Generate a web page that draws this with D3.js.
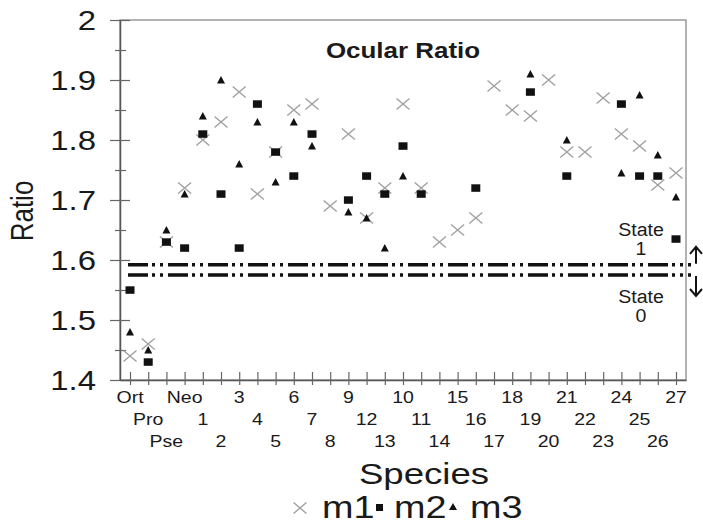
<!DOCTYPE html>
<html>
<head>
<meta charset="utf-8">
<script src="https://cdn.jsdelivr.net/npm/d3@7"></script>
<style>
  body { margin: 0; background: #fff; }
  svg { display: block; font-family: Arial, "Liberation Sans", sans-serif; }
</style>
</head>
<body>
<div id="chart"></div>
<script>
// species in the order they sit on the x axis (labels are staggered in 3 rows)
const species = ["Ort", "Pro", "Pse", "Neo", "1", "2", "3", "4", "5", "6", "7", "8",
  "9", "12", "13", "10", "11", "14", "15", "16", "17", "18", "19", "20",
  "21", "22", "23", "24", "25", "26", "27"];

// m1 = crosses, m2 = squares, m3 = triangles (null = no point)
const m1 = [1.44, 1.46, 1.63, 1.72, 1.80, 1.83, 1.88, 1.71, 1.78, 1.85, 1.86, 1.69,
  1.81, 1.67, 1.72, 1.86, 1.72, 1.63, 1.65, 1.67, 1.89, 1.85, 1.84, 1.90,
  1.78, 1.78, 1.87, 1.81, 1.79, 1.725, 1.745];
const m2 = [1.55, 1.43, 1.63, 1.62, 1.81, 1.71, 1.62, 1.86, 1.78, 1.74, 1.81, null,
  1.70, 1.74, 1.71, 1.79, 1.71, null, null, 1.72, null, null, 1.88, null,
  1.74, null, null, 1.86, 1.74, 1.74, 1.635];
const m3 = [1.48, 1.45, 1.65, 1.71, 1.84, 1.90, 1.76, 1.83, 1.73, 1.83, 1.79, null,
  1.68, 1.67, 1.62, 1.74, null, null, null, null, null, null, 1.91, null,
  1.80, null, null, 1.745, 1.875, 1.775, 1.705];

const yMajor = [1.4, 1.5, 1.6, 1.7, 1.8, 1.9, 2.0];
const yMajorLabels = ["1.4", "1.5", "1.6", "1.7", "1.8", "1.9", "2"];
const yMinor = [1.45, 1.55, 1.65, 1.75, 1.85, 1.95];

// the two dash-dot lines between state 0 and state 1
const stateLines = [1.592, 1.575];

// === 1. SVG ===
const W = 703, H = 524;
const plot = { left: 120, right: 686, top: 20, bottom: 380 };
const stretch = 1.22; // the scanned figure is a bit wide, text too

const svg = d3.select("#chart").append("svg")
  .attr("width", W)
  .attr("height", H);

function addText(x, y, str, size, opts = {}) {
  const sx = opts.sx === undefined ? stretch : opts.sx;
  const t = svg.append("text")
    .attr("transform", `translate(${x},${y})` + (opts.rotate ? ` rotate(${opts.rotate})` : "") +
      (opts.rotate ? ` scale(1,${sx})` : ` scale(${sx},1)`))
    .attr("text-anchor", opts.anchor || "middle")
    .style("font-size", size + "px")
    .style("font-weight", opts.bold ? "bold" : "normal")
    .attr("fill", opts.fill || "#1a1a1a")
    .text(str);
  return t;
}

// === 2. Scales ===
const x = d3.scalePoint()
  .domain(species)
  .range([plot.left, plot.right])
  .padding(0.55);

const y = d3.scaleLinear()
  .domain([1.4, 2.0])
  .range([plot.bottom, plot.top]);

// === 3. Frame & axes ===
svg.append("rect")
  .attr("x", plot.left)
  .attr("y", plot.top)
  .attr("width", plot.right - plot.left)
  .attr("height", plot.bottom - plot.top)
  .attr("fill", "none")
  .attr("stroke", "#8a8a8a")
  .attr("stroke-width", 1.3);

const yAxis = svg.append("g")
  .attr("transform", `translate(${plot.left},0)`)
  .call(d3.axisLeft(y).tickValues(yMajor).tickFormat("").tickSizeOuter(0));
yAxis.selectAll(".tick line").attr("x1", 10).attr("x2", -10);

const yAxisMinor = svg.append("g")
  .attr("transform", `translate(${plot.left},0)`)
  .call(d3.axisLeft(y).tickValues(yMinor).tickFormat("").tickSizeOuter(0));
yAxisMinor.select(".domain").remove();
yAxisMinor.selectAll(".tick line").attr("x1", 6).attr("x2", -5);

const xAxis = svg.append("g")
  .attr("transform", `translate(0,${plot.bottom})`)
  .call(d3.axisBottom(x).tickFormat("").tickSizeOuter(0));
xAxis.selectAll(".tick line").attr("y1", -8).attr("y2", 5);

svg.selectAll(".domain").attr("stroke", "#555").attr("stroke-width", 1.5);
svg.selectAll(".tick line").attr("stroke", "#666").attr("stroke-width", 1.2);

// y tick labels
yMajor.forEach((v, i) => {
  addText(96, y(v) + 10, yMajorLabels[i], 27, { anchor: "end" });
});

// x tick labels, staggered in three rows
const rowY = [403, 425, 447];
species.forEach((s, i) => {
  addText(x(s), rowY[i % 3], s, 16);
});

// axis titles
addText(33, 211, "Ratio", 26, { rotate: -90 });
addText(424, 484, "Species", 30);

// chart title
addText(403, 58, "Ocular Ratio", 22, { bold: true, sx: 1.18 });

// === 4. State lines ===
svg.selectAll(".state-line")
  .data(stateLines)
  .enter()
  .append("line")
    .attr("class", "state-line")
    .attr("x1", plot.left + 8)
    .attr("x2", plot.right + 5)
    .attr("y1", d => y(d))
    .attr("y2", d => y(d))
    .attr("stroke", "#111")
    .attr("stroke-width", 3.5)
    .attr("stroke-dasharray", "20,4,3,5,3,5");

addText(641, 236, "State", 19, { sx: 1.03 });
addText(641, 255, "1", 19, { sx: 1.03 });
addText(641, 303, "State", 19, { sx: 1.03 });
addText(641, 322, "0", 19, { sx: 1.03 });

// up / down arrows at the right edge
const ax = 696;
const yUp = y(stateLines[0]), yDown = y(stateLines[1]);
svg.append("path")
  .attr("d", `M${ax},${yUp - 1}V${yUp - 18}M${ax - 6},${yUp - 11}L${ax},${yUp - 18}L${ax + 6},${yUp - 11}`)
  .attr("fill", "none").attr("stroke", "#111").attr("stroke-width", 2);
svg.append("path")
  .attr("d", `M${ax},${yDown + 1}V${yDown + 21}M${ax - 6},${yDown + 14}L${ax},${yDown + 21}L${ax + 6},${yDown + 14}`)
  .attr("fill", "none").attr("stroke", "#111").attr("stroke-width", 2);

// === 5. Points ===
function crossPath(cx, cy) {
  return `M${cx - 6.5},${cy - 5.5}L${cx + 6.5},${cy + 5.5}M${cx - 6.5},${cy + 5.5}L${cx + 6.5},${cy - 5.5}`;
}
function triPath(cx, cy) {
  return `M${cx},${cy - 4}L${cx + 4},${cy + 3.5}L${cx - 4},${cy + 3.5}Z`;
}

const pts = (arr) => species.map((s, i) => ({ s, v: arr[i] })).filter(d => d.v !== null);

svg.append("g").selectAll("path")
  .data(pts(m1))
  .enter()
  .append("path")
    .attr("d", d => crossPath(x(d.s), y(d.v)))
    .attr("stroke", "#a0a0a0")
    .attr("stroke-width", 1.4)
    .attr("fill", "none");

svg.append("g").selectAll("rect")
  .data(pts(m2))
  .enter()
  .append("rect")
    .attr("x", d => x(d.s) - 4.5)
    .attr("y", d => y(d.v) - 3.7)
    .attr("width", 9)
    .attr("height", 7.5)
    .attr("fill", "#111");

svg.append("g").selectAll("path")
  .data(pts(m3))
  .enter()
  .append("path")
    .attr("d", d => triPath(x(d.s), y(d.v)))
    .attr("fill", "#111");

// === 6. Legend ===
const legY = 518;
svg.append("path")
  .attr("d", crossPath(300, legY - 10))
  .attr("stroke", "#a0a0a0").attr("stroke-width", 1.4).attr("fill", "none");
addText(322, legY, "m1", 31, { anchor: "start" });
svg.append("rect")
  .attr("x", 376).attr("y", legY - 14).attr("width", 7).attr("height", 7)
  .attr("fill", "#111");
addText(394, legY, "m2", 31, { anchor: "start" });
svg.append("path")
  .attr("d", `M${453},${legY - 15}L${457},${legY - 8}L${449},${legY - 8}Z`)
  .attr("fill", "#111");
addText(470, legY, "m3", 31, { anchor: "start" });
</script>
</body>
</html>
